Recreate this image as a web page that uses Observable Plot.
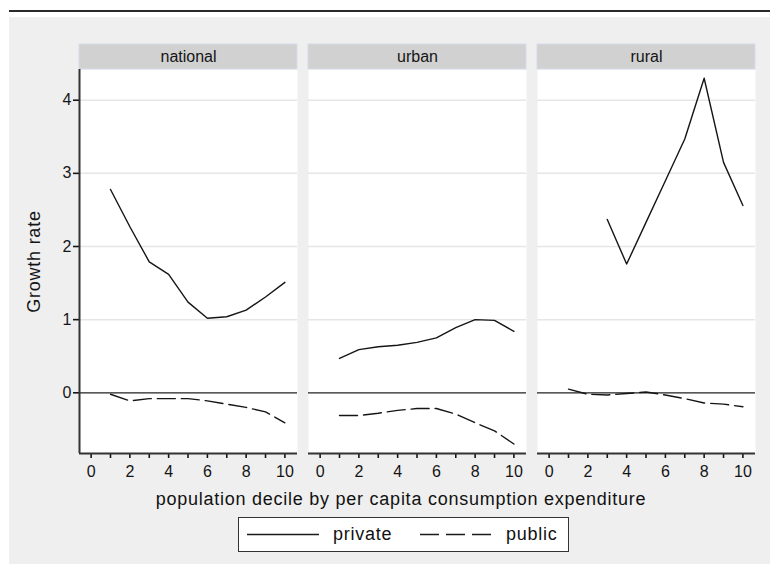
<!DOCTYPE html>
<html>
<head>
<meta charset="utf-8">
<script src="https://cdn.jsdelivr.net/npm/d3@7"></script>
<script src="https://cdn.jsdelivr.net/npm/@observablehq/plot@0.6"></script>
<style>
  body { margin: 0; background: #fff; font-family: "Liberation Sans", Arial, sans-serif; color: #111; }
  #rule { position: absolute; left: 9px; top: 10px; width: 761px; height: 2px; background: #2a2a2a; }
  #bg { position: absolute; left: 9px; top: 17px; width: 761px; height: 547px; background: #efefef; }
  #chart { position: absolute; left: 0; top: 0; }
  #xtitle { position: absolute; left: 0; top: 489px; width: 802px; text-align: center; font-size: 18px; letter-spacing: 0.75px; }
  #legend { position: absolute; left: 238px; top: 517px; width: 331px; height: 35px; box-sizing: border-box;
            border: 1px solid #333; background: #fff; font-size: 18px; letter-spacing: 0.75px; }
  #legend svg, #legend span { position: absolute; top: 0; }
  #legend span { line-height: 33px; }
  #chart svg [aria-label="y-axis label"] text { font-size: 18px; letter-spacing: 0.75px; }
  #chart svg [aria-label="x-axis tick label"] text,
  #chart svg [aria-label="y-axis tick label"] text { font-size: 16px; }
  #chart svg [aria-label="x-axis tick"],
  #chart svg [aria-label="y-axis tick"] { stroke-width: 1.6px; stroke: #222; }
</style>
</head>
<body>
<div id="rule"></div>
<div id="bg"></div>
<div id="chart"></div>
<div id="xtitle">population decile by per capita consumption expenditure</div>
<div id="legend">
  <svg style="left:8px" width="72" height="33"><line x1="0" x2="72" y1="16.5" y2="16.5" stroke="#1a1a1a" stroke-width="1.4"/></svg>
  <span style="left:94px">private</span>
  <svg style="left:181px" width="75" height="33"><line x1="0" x2="75" y1="16.5" y2="16.5" stroke="#1a1a1a" stroke-width="1.4" stroke-dasharray="19,7"/></svg>
  <span style="left:267px">public</span>
</div>
<script>
// Growth rate by population decile, for three areas and two sectors
const panels = ["national", "urban", "rural"];
const sectors = ["private", "public"];
const deciles = [1, 2, 3, 4, 5, 6, 7, 8, 9, 10];
const xTicks = [0, 1, 2, 3, 4, 5, 6, 7, 8, 9, 10];
const yTicks = [0, 1, 2, 3, 4];

const nationalPrivate = [2.78, 2.27, 1.79, 1.62, 1.24, 1.02, 1.04, 1.13, 1.31, 1.51];
const nationalPublic  = [-0.02, -0.11, -0.08, -0.08, -0.08, -0.11, -0.155, -0.2, -0.26, -0.41];
const urbanPrivate    = [0.47, 0.59, 0.63, 0.65, 0.69, 0.75, 0.89, 1.00, 0.99, 0.84];
const urbanPublic     = [-0.31, -0.31, -0.28, -0.24, -0.215, -0.215, -0.29, -0.41, -0.52, -0.70];
const ruralPrivate    = [null, null, 2.37, 1.76, 2.33, 2.90, 3.47, 4.30, 3.15, 2.56];
const ruralPublic     = [0.05, -0.02, -0.03, -0.01, 0.01, -0.03, -0.08, -0.14, -0.155, -0.19];

const valuesFor = {
  national: {private: nationalPrivate, public: nationalPublic},
  urban: {private: urbanPrivate, public: urbanPublic},
  rural: {private: ruralPrivate, public: ruralPublic}
};

const rows = panels.flatMap(panel => sectors.flatMap(sector =>
  deciles.map((decile, i) => ({panel, sector, decile, value: valuesFor[panel][sector][i]}))
)).filter(d => d.value != null);

const xDomain = [-0.6, 10.65];
const yDomain = [-0.83, 4.42];
const headerHeight = 25;
const ink = "#151515";

const chart = Plot.plot({
  width: 770,
  height: 490,
  marginTop: 69,
  marginBottom: 37,
  marginLeft: 78,
  marginRight: 14.5,
  style: {background: "transparent", fontFamily: "Liberation Sans, Arial, sans-serif", fontSize: "15px", color: ink},
  fx: {domain: panels, axis: null, paddingInner: 0.046, paddingOuter: 0, label: null},
  x: {domain: xDomain, ticks: xTicks, tickSize: 5, tickPadding: 7,
      tickFormat: d => (d % 2 ? "" : String(d)), label: null},
  y: {domain: yDomain, ticks: yTicks, tickSize: 6, tickPadding: 2, tickFormat: d => String(d),
      label: "Growth rate", labelAnchor: "center", labelArrow: "none", labelOffset: 52},
  marks: [
    // white plot region for every panel
    Plot.frame({fill: "white", stroke: "none"}),
    // grey strip with the panel name above each panel
    Plot.rect(panels, {fx: d => d, y1: yDomain[1], y2: yDomain[1], insetTop: -headerHeight,
                       fill: "#d1d1d1", stroke: "#d8dcea"}),
    Plot.text(panels, {fx: d => d, text: d => d, frameAnchor: "top", lineAnchor: "middle",
                       dy: -headerHeight / 2, fontSize: 16, fill: ink}),
    // horizontal grid
    Plot.ruleY(yTicks.filter(t => t !== 0), {stroke: "#e6e6e6", strokeWidth: 1.5}),
    // reference line at zero
    Plot.ruleY([0], {stroke: "#222", strokeWidth: 1.3}),
    // axis lines
    Plot.ruleY([yDomain[0]], {stroke: "#333", strokeWidth: 2}),
    Plot.ruleX([{panel: "national", x: xDomain[0]}], {fx: "panel", x: "x", stroke: "#333", strokeWidth: 2}),
    // series
    Plot.line(rows.filter(d => d.sector === "private"),
      {fx: "panel", x: "decile", y: "value", z: "panel", stroke: ink, strokeWidth: 1.4}),
    Plot.line(rows.filter(d => d.sector === "public"),
      {fx: "panel", x: "decile", y: "value", z: "panel", stroke: ink, strokeWidth: 1.4, strokeDasharray: "18,6"})
  ]
});

document.getElementById("chart").append(chart);
</script>
</body>
</html>
